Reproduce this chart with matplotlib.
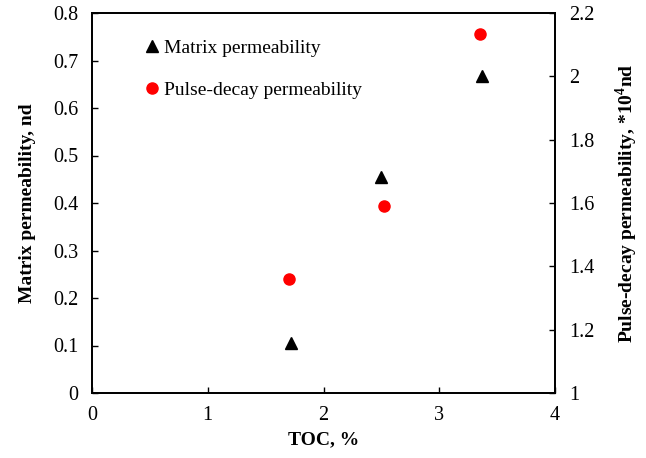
import matplotlib
matplotlib.use('Agg')
import matplotlib.pyplot as plt

plt.rcParams['font.family'] = ['Liberation Serif', 'DejaVu Serif']
plt.rcParams['mathtext.fontset'] = 'custom'
plt.rcParams['mathtext.rm'] = 'Liberation Serif'
plt.rcParams['mathtext.bf'] = 'Liberation Serif:bold'

# данные
toc_matrix = [1.72, 2.50, 3.37]
matrix_perm = [0.106, 0.455, 0.667]
toc_pulse = [1.70, 2.52, 3.35]
pulse_perm = [1.36, 1.59, 2.134]

x_ticks = [0, 1, 2, 3, 4]
left_ticks = [0, 0.1, 0.2, 0.3, 0.4, 0.5, 0.6, 0.7, 0.8]
right_ticks = [1, 1.2, 1.4, 1.6, 1.8, 2, 2.2]

fig = plt.figure(figsize=(6.46, 4.58), dpi=100)
ax1 = fig.add_axes([92/646, 1 - 393/458, 463/646, 380/458])
ax2 = ax1.twinx()

ax1.plot(toc_matrix, matrix_perm, '^', color='black', markersize=8,
         linestyle='none', label='Matrix permeability')
ax2.plot(toc_pulse, pulse_perm, 'o', color='#ff0000', markersize=8,
         linestyle='none', label='Pulse-decay permeability')

# оси
ax1.set_xlim(0, 4)
ax1.set_ylim(0, 0.8)
ax2.set_ylim(1, 2.2)
ax1.set_xticks(x_ticks)
ax1.set_xticklabels([str(t) for t in x_ticks])
ax1.set_yticks(left_ticks)
ax1.set_yticklabels(['0'] + ['%.1f' % t for t in left_ticks[1:]])
ax2.set_yticks(right_ticks)
ax2.set_yticklabels(['1', '1.2', '1.4', '1.6', '1.8', '2', '2.2'])

for ax in (ax1, ax2):
    ax.tick_params(direction='in', length=4, width=1, labelsize=14.5, pad=10)
    for sp in ax.spines.values():
        sp.set_linewidth(1.3)
ax1.tick_params(axis='x', pad=9)

ax1.set_xlabel('TOC, %', fontsize=14, fontweight='bold', labelpad=5)
ax1.set_ylabel('Matrix permeability, nd', fontsize=14, fontweight='bold', labelpad=12)
ax2.set_ylabel(r'Pulse-decay permeability, *10$^{\mathbf{4}}$nd', fontsize=14,
               fontweight='bold', labelpad=14)

h1, l1 = ax1.get_legend_handles_labels()
h2, l2 = ax2.get_legend_handles_labels()
ax2.legend(h1 + h2, l1 + l2, loc='upper left', bbox_to_anchor=(0.10, 0.952),
           frameon=False, fontsize=14, handlelength=0.6, handletextpad=0.3,
           labelspacing=1.25, borderaxespad=0)

fig.savefig('out.png', dpi=100)
